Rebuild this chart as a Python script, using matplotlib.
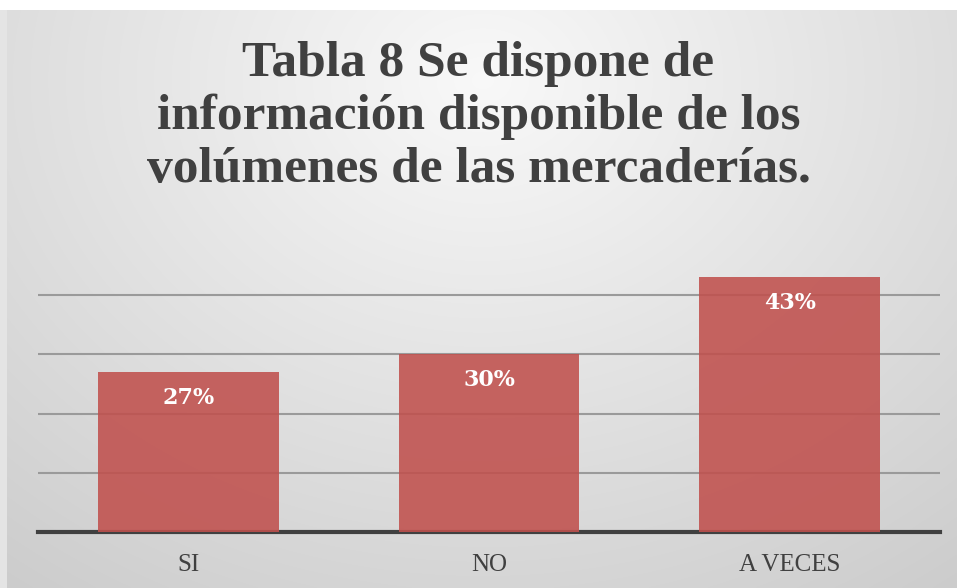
import numpy as np
import matplotlib
matplotlib.use("Agg")
import matplotlib.pyplot as plt

categories = ["SI", "NO", "A VECES"]
values = [0.27, 0.30, 0.43]
labels = ["27%", "30%", "43%"]
title = "Tabla 8 Se dispone de\ninformación disponible de los\nvolúmenes de las mercaderías."

W, H = 957, 588
fig = plt.figure(figsize=(W / 100, H / 100), dpi=100)
fig.patch.set_facecolor("white")

# thin left grey strip
strip = fig.add_axes([0, 0, 7 / W, 1 - 10 / H])
strip.set_axis_off()
strip.add_patch(plt.Rectangle((0, 0), 1, 1, color="#e4e4e4", transform=strip.transAxes))

# background gradient panel
bg = fig.add_axes([7 / W, 0, 1 - 7 / W, 1 - 10 / H])
bg.set_axis_off()
ny, nx = 300, 500
yy, xx = np.mgrid[0:ny, 0:nx]
cx, cy = nx * 0.5, ny * 0.12
d = np.sqrt(((xx - cx) / (nx * 0.75)) ** 2 + ((yy - cy) / (ny * 1.0)) ** 2)
g = 0.975 - 0.19 * np.clip(d, 0, 1.2) / 1.2
img = np.dstack([g, g, g])
bg.imshow(img, aspect="auto", extent=[0, 1, 0, 1], interpolation="bilinear")
bg.set_xlim(0, 1)
bg.set_ylim(0, 1)

ax = fig.add_axes([38 / W, 1 - 532 / H, (940 - 38) / W, (532 - 233) / H])
ax.patch.set_alpha(0)
x = np.arange(len(categories))
ax.bar(x, values, width=0.6, color="#C0504D", alpha=0.88, zorder=3)
ax.set_xlim(-0.5, len(categories) - 0.5)
ax.set_ylim(0, 0.505)
ax.set_yticks([0.1, 0.2, 0.3, 0.4])
ax.yaxis.grid(True, color="#9a9a9a", linewidth=1.5, zorder=0)
ax.tick_params(axis="y", left=False, labelleft=False)
ax.tick_params(axis="x", length=0, pad=16)
ax.set_xticks(x)
ax.set_xticklabels(categories, fontfamily="Liberation Serif", fontsize=18, color="#404040")
for s in ["top", "right", "left"]:
    ax.spines[s].set_visible(False)
ax.spines["bottom"].set_color("#404040")
ax.spines["bottom"].set_linewidth(3)

for xi, v, lab in zip(x, values, labels):
    ax.annotate(lab, (xi, v), xytext=(0, -26), textcoords="offset pixels",
                ha="center", va="center", color="white", fontsize=16, fontweight="bold",
                fontfamily="DejaVu Serif", zorder=5)

fig.text(0.5, 1 - 117 / H, title, ha="center", va="center", fontsize=37, fontweight="bold",
         fontfamily="Liberation Serif", color="#404040", linespacing=1.2)

fig.savefig("out.png", dpi=100)
